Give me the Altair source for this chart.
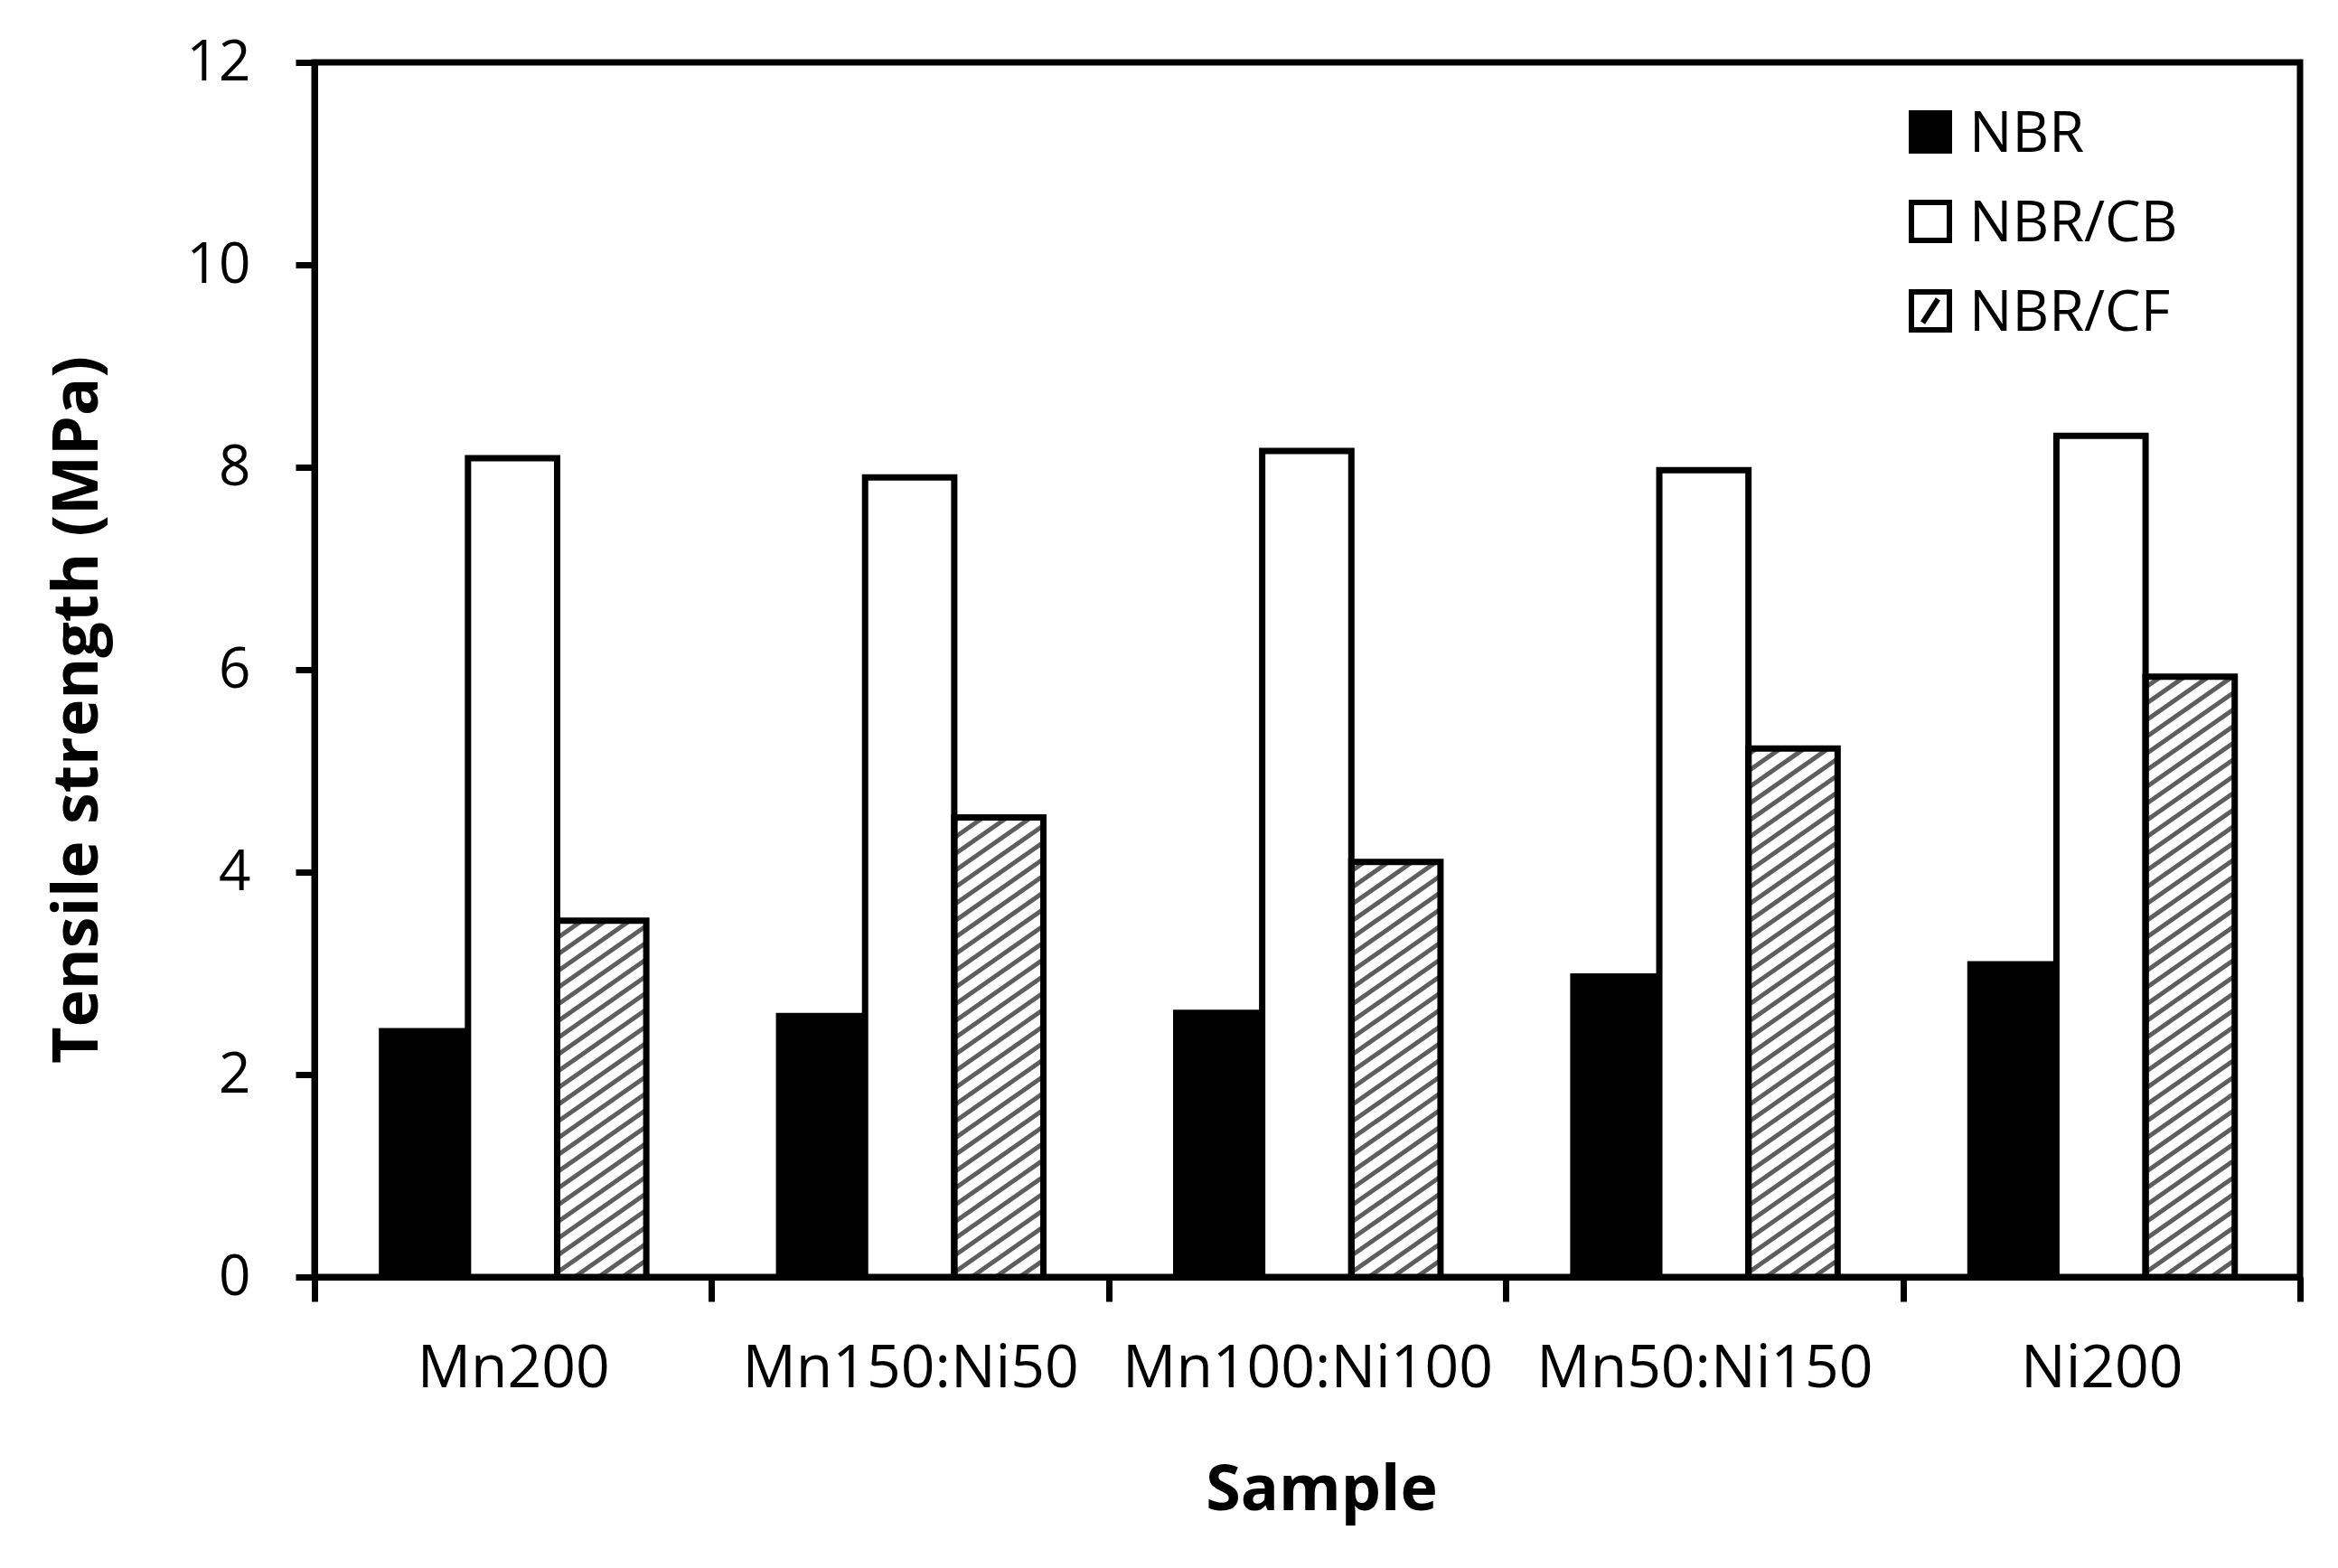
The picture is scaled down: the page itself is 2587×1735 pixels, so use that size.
import json
import altair as alt
import pandas as pd

# ---------------- data ----------------
samples = ["Mn200", "Mn150:Ni50", "Mn100:Ni100", "Mn50:Ni150", "Ni200"]
series = ["NBR", "NBR/CB", "NBR/CF"]
nbr = [2.46, 2.61, 2.64, 3.00, 3.12]
nbr_cb = [8.09, 7.90, 8.16, 7.97, 8.31]
nbr_cf = [3.52, 4.54, 4.10, 5.22, 5.93]
y_ticks = [0, 2, 4, 6, 8, 10, 12]

# ---------------- layout ----------------
W, H = 2197, 1344
GROUP_PAD = 0.162   # gap before first bar inside a category (fraction of category)
BAR_W = 0.2245      # bar width (fraction of category)

rows = []
for g, s in enumerate(samples):
    for k, (name, vals) in enumerate(zip(series, [nbr, nbr_cb, nbr_cf])):
        x0 = g + GROUP_PAD + BAR_W * k
        rows.append(dict(sample=s, series=name, value=vals[g],
                         x0=x0, x1=x0 + BAR_W, zero=0.0))
bars = pd.DataFrame(rows)

# hatch lines for the NBR/CF bars (derived from the bar values)
px_x = W / len(samples)
px_y = H / 12.0
slope = 0.7 * px_x / px_y          # y-units per x-unit
spacing = 18.5 / px_y              # vertical spacing in y-units
hatch = []
for r in bars[bars.series == series[2]].itertuples():
    rise = slope * (r.x1 - r.x0)
    k = 0
    while True:
        yl = -rise + k * spacing
        if yl >= r.value:
            break
        yr = yl + rise
        if yl < 0:
            xs, ys = r.x0 + (-yl) / slope, 0.0
        else:
            xs, ys = r.x0, yl
        if yr > r.value:
            xe, ye = r.x0 + (r.value - yl) / slope, r.value
        else:
            xe, ye = r.x1, yr
        if xe > xs:
            hatch.append(dict(hx=xs, hy=ys, hx2=xe, hy2=ye))
        k += 1
hatch_df = pd.DataFrame(hatch)

FONT = "Open Sans"
xscale = alt.Scale(domain=[0, len(samples)], nice=False, zero=False)
yscale = alt.Scale(domain=[0, 12], nice=False)

label_expr = "datum.value % 1 === 0 ? '' : " + json.dumps(samples) + "[floor(datum.value)]"

xaxis = alt.Axis(
    values=[i * 0.5 for i in range(2 * len(samples) + 1)],
    labelExpr=label_expr,
    labelOverlap=False, labelFlush=False, labelLimit=1000,
    tickOpacity={"condition": {"test": "datum.value % 1 === 0", "value": 1}, "value": 0},
    tickSize=27, tickWidth=7, domainWidth=7, grid=False,
    labelFont=FONT, labelFontSize=66, labelPadding=94, labelBaseline="alphabetic",
    labelColor="black",
    title="Sample", titleFont=FONT, titleFontSize=70, titleFontWeight="bold",
    titleX=1114, titleY=257, titleBaseline="alphabetic", titleColor="black",
)
yaxis = alt.Axis(
    values=y_ticks, format="d", grid=False,
    tickSize=21, tickWidth=7, domainWidth=7,
    labelFont=FONT, labelFontSize=62, labelPadding=50, labelColor="black",
    title="Tensile strength (MPa)", titleFont=FONT, titleFontSize=70,
    titleFontWeight="bold", titleX=-241, titleY=716, titleBaseline="alphabetic",
    titleColor="black",
)

bar_colors = ["black", "white", "white"]

base = alt.Chart(bars)
fill_layer = base.mark_rect(strokeWidth=0).encode(
    x=alt.X("x0:Q", scale=xscale, axis=xaxis),
    x2="x1:Q",
    y=alt.Y("value:Q", scale=yscale, axis=yaxis),
    y2="zero:Q",
    color=alt.Color("series:N", scale=alt.Scale(domain=series, range=bar_colors), legend=None),
)

hatch_layer = alt.Chart(hatch_df).mark_rule(color="#5e5e5e", strokeWidth=5).encode(
    x="hx:Q", x2="hx2:Q", y="hy:Q", y2="hy2:Q"
)

stroke_layer = base.transform_filter(
    alt.FieldOneOfPredicate(field="series", oneOf=series[1:])
).mark_rect(fillOpacity=0, stroke="black", strokeWidth=7).encode(
    x="x0:Q", x2="x1:Q", y="value:Q", y2="zero:Q"
)

main = alt.layer(fill_layer, hatch_layer, stroke_layer)

# ---------------- legend (inside the plot, top right) ----------------
hatch_symbol = "M-1,-1H1V1H-1Z M-0.4,0.62L0.4,-0.62"
leg_df = pd.DataFrame({"series": series})
leg_y = alt.Y("series:N", scale=alt.Scale(type="point", domain=series, range=[77, 275], padding=0),
              axis=None)
leg_sym = alt.Chart(leg_df).mark_point(
    filled=True, stroke="black", strokeWidth=6, size=1764, opacity=1
).encode(
    x=alt.value(1788),
    y=leg_y,
    fill=alt.Fill("series:N", scale=alt.Scale(domain=series, range=bar_colors), legend=None),
    shape=alt.Shape("series:N",
                    scale=alt.Scale(domain=series, range=["square", "square", hatch_symbol]),
                    legend=None),
)
leg_txt = alt.Chart(leg_df).mark_text(
    align="left", baseline="alphabetic", dy=22, font=FONT, fontSize=63, color="black"
).encode(
    x=alt.value(1831),
    y=leg_y,
    text="series:N",
)
legend_layers = alt.layer(leg_sym, leg_txt)

chart = alt.layer(main, legend_layers).resolve_scale(y="independent").properties(
    width=W, height=H,
    autosize=alt.AutoSizeParams(type="none"),
    padding={"left": 340, "top": 61, "right": 26, "bottom": 300},
    background="white",
).configure_view(stroke="black", strokeWidth=7).configure_axis(
    domainColor="black", tickColor="black"
)

chart.save("out.html", embed_options={"renderer": "svg", "actions": False})
